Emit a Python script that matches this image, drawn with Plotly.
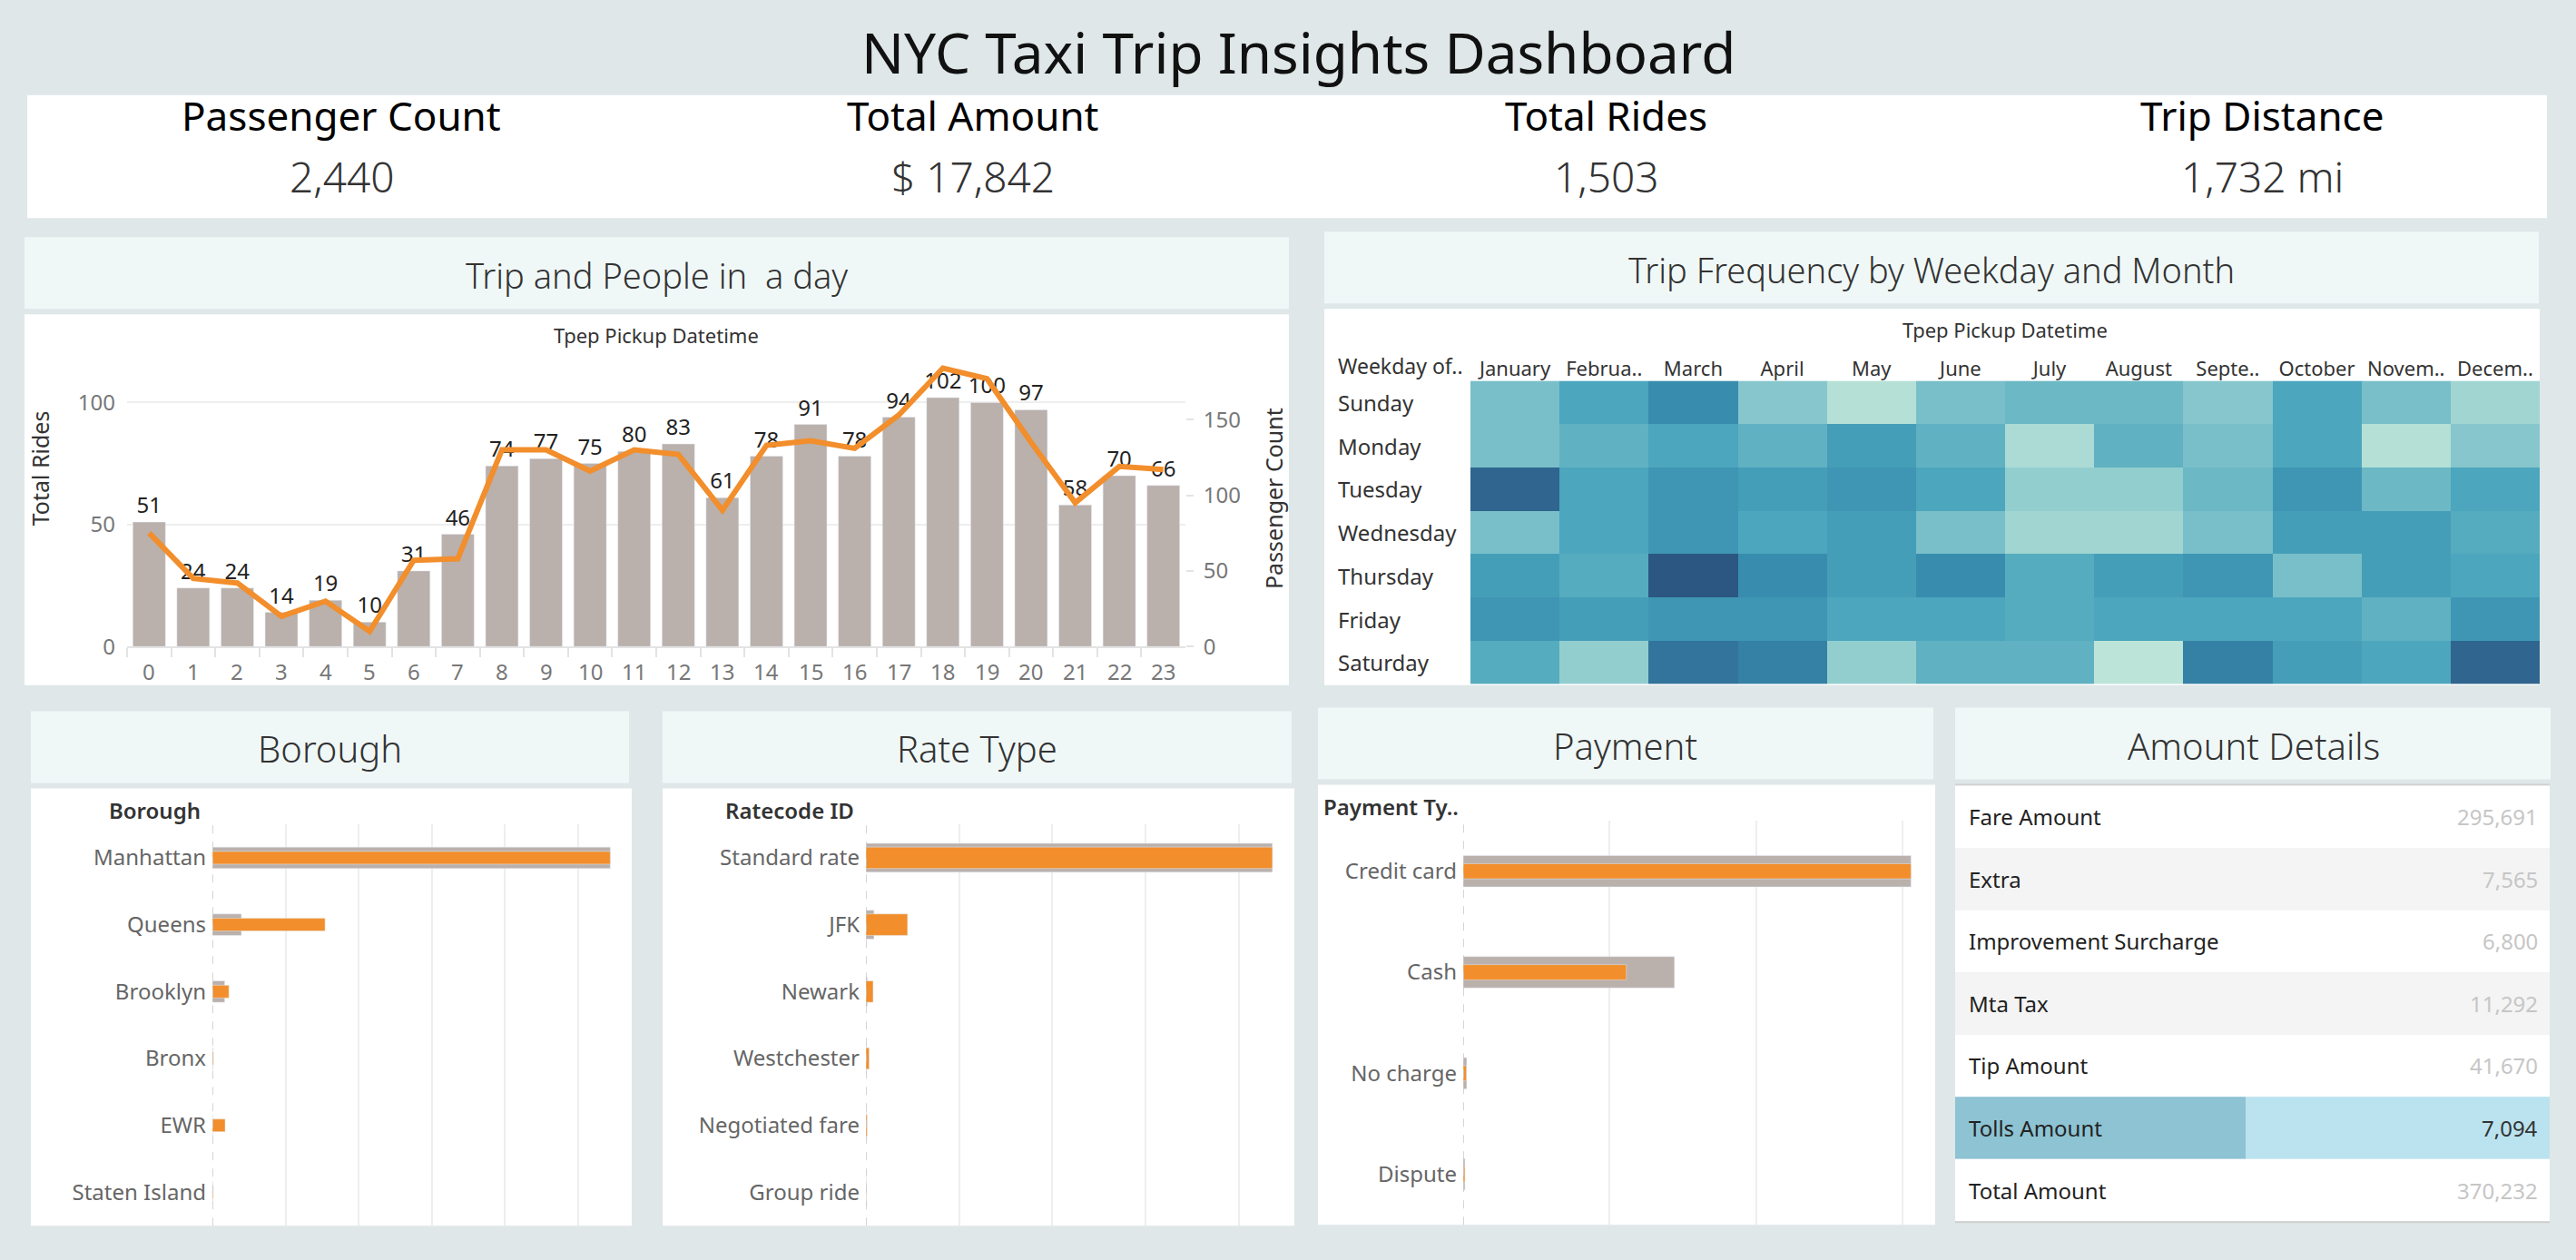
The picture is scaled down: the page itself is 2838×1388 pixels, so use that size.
import plotly.graph_objects as go

W, H = 2838, 1388
BG = "#dfe7e8"
TITLE_BG = "#f0f8f7"
GRAY = "#bab0ac"
ORANGE = "#f28e2b"
FONT = "Noto Sans"

# ---------------- data ----------------
kpi_labels = ["Passenger Count", "Total Amount", "Total Rides", "Trip Distance"]
kpi_values = ["2,440", "$ 17,842", "1,503", "1,732 mi"]

hours = [str(h) for h in range(24)]
hour_rides = [51, 24, 24, 14, 19, 10, 31, 46, 74, 77, 75, 80, 83, 61, 78, 91, 78, 94, 102, 100, 97, 58, 70, 66]
hour_passengers = [75, 45, 42, 20, 30, 10, 57, 58, 130, 130, 116, 130, 127, 90, 133, 136, 131, 153, 184, 177, 135, 95, 119, 117]

months = ["January", "Februa..", "March", "April", "May", "June", "July", "August",
          "Septe..", "October", "Novem..", "Decem.."]
weekdays = ["Sunday", "Monday", "Tuesday", "Wednesday", "Thursday", "Friday", "Saturday"]
trips_by_day_month = [
    [15, 19, 22, 14, 10, 15, 16, 16, 14, 19, 15, 12],
    [15, 17, 19, 17, 20, 17, 11, 17, 15, 19, 10, 14],
    [25, 19, 21, 20, 21, 19, 13, 13, 16, 21, 16, 19],
    [15, 19, 21, 19, 20, 15, 12, 12, 15, 20, 20, 18],
    [20, 18, 26, 22, 20, 22, 18, 20, 21, 15, 20, 19],
    [21, 20, 21, 21, 19, 19, 18, 19, 19, 19, 17, 21],
    [18, 13, 24, 23, 13, 17, 17, 9, 23, 20, 19, 25],
]

boroughs = ["Manhattan", "Queens", "Brooklyn", "Bronx", "EWR", "Staten Island"]
borough_rides = [1358, 99, 42, 2, 1, 1]
borough_amount = [272000, 77000, 11300, 700, 8700, 530]

rate_types = ["Standard rate", "JFK", "Newark", "Westchester", "Negotiated fare", "Group ride"]
rate_rides = [1465, 29, 5, 2, 1, 1]
rate_amount = [327000, 33500, 5800, 2600, 1000, 300]

payments = ["Credit card", "Cash", "No charge", "Dispute"]
payment_rides = [1013, 478, 8, 4]
payment_amount = [269200, 98100, 1900, 1032]

amount_labels = ["Fare Amount", "Extra", "Improvement Surcharge", "Mta Tax",
                 "Tip Amount", "Tolls Amount", "Total Amount"]
amount_values = [295691, 7565, 6800, 11292, 41670, 7094, 370232]
highlight_row = "Tolls Amount"


# ---------------- helpers (pixel -> paper) ----------------
def fx(px):
    return px / W


def fy(py):
    return 1 - py / H


shapes = []
annotations = []


def rect(x0, y0, x1, y1, color, line=None):
    shapes.append(dict(type="rect", xref="paper", yref="paper", layer="below",
                       x0=fx(x0), x1=fx(x1), y0=fy(y1), y1=fy(y0),
                       fillcolor=color, line=dict(width=0) if line is None else line))


def text(x, y, s, size, color="#333333", xanchor="center", weight="normal", angle=0, family=FONT):
    annotations.append(dict(xref="paper", yref="paper", x=fx(x), y=fy(y), text=s,
                            showarrow=False, xanchor=xanchor, yanchor="middle",
                            textangle=angle,
                            font=dict(family=family, size=size, color=color, weight=weight)))


# ---------------- panels ----------------
rect(30, 106, 2806, 243, "white")
rect(27, 264, 1420, 344, TITLE_BG)
rect(27, 350, 1420, 763, "white")
rect(1459, 258, 2797, 338, TITLE_BG)
rect(1459, 344, 2798, 763, "white")
rect(34, 792, 693, 872, TITLE_BG)
rect(34, 878, 696, 1365, "white")
rect(730, 792, 1423, 872, TITLE_BG)
rect(730, 878, 1426, 1365, "white")
rect(1452, 788, 2130, 868, TITLE_BG)
rect(1452, 874, 2132, 1364, "white")
rect(2154, 788, 2810, 868, TITLE_BG)

# Titles
text(1430, 58, "NYC Taxi Trip Insights Dashboard", 62, "#111111")
kpi_x = [376, 1072, 1770, 2492]
for xk, lab, val in zip(kpi_x, kpi_labels, kpi_values):
    text(xk, 128, lab, 44, "#000000")
    text(xk, 196, val, 46, "#333333", weight=300)

text(723, 306, "Trip and People in  a day", 38, "#333333", weight=300)
text(2128, 300, "Trip Frequency by Weekday and Month", 38, "#333333", weight=300)
text(363, 834, "Borough", 40, "#333333", weight=300)
text(1076, 834, "Rate Type", 40, "#333333", weight=300)
text(1790, 830, "Payment", 40, "#333333", weight=300)
text(2483, 830, "Amount Details", 40, "#333333", weight=300)

# ---------------- traces ----------------
fig = go.Figure()

fig.add_trace(go.Bar(x=hours, y=hour_rides, marker_color=GRAY, width=0.74,
                     text=hour_rides, textposition="outside", cliponaxis=False,
                     constraintext="none",
                     textfont=dict(family=FONT, size=24, color="#222222"),
                     xaxis="x", yaxis="y", showlegend=False, hoverinfo="x+y"))
fig.add_trace(go.Scatter(x=hours, y=hour_passengers, mode="lines",
                         line=dict(color=ORANGE, width=6),
                         xaxis="x", yaxis="y2", showlegend=False))
# hour labels under the axis
for h in hours:
    annotations.append(dict(xref="x", yref="paper", x=h, y=fy(748), text=h, showarrow=False,
                            xanchor="center", yanchor="middle",
                            font=dict(family=FONT, size=24, color="#777777")))
text(723, 373, "Tpep Pickup Datetime", 22, "#333333")
text(44, 522, "Total Rides", 25, "#333333", angle=-90)
text(1403, 555, "Passenger Count", 25, "#333333", angle=-90)

# Heatmap
bluteal = [
    [0.0, "#bde4d8"], [0.15, "#a6d9d3"], [0.3, "#85c5cc"], [0.45, "#64b3c3"],
    [0.6, "#4aa5bc"], [0.75, "#3990b0"], [0.87, "#33779e"], [1.0, "#2c5783"],
]
fig.add_trace(go.Heatmap(z=trips_by_day_month, x=months, y=weekdays, colorscale=bluteal,
                         showscale=False, xaxis="x3", yaxis="y3", xgap=0, ygap=0))
text(2209, 367, "Tpep Pickup Datetime", 22, "#333333")
text(1472, 407, "Weekday of..", 23, "#333333", xanchor="left")
row_h = (762 - 424) / len(weekdays)
for i, d in enumerate(weekdays):
    text(1472, 424 + row_h * (i + 0.5), d, 24, "#333333", xanchor="left")


def dual_bars(cats, gray_vals, orange_vals, xa, xb, ya, gw, ow):
    fig.add_trace(go.Bar(y=cats, x=gray_vals, orientation="h", marker_color=GRAY, width=gw,
                         xaxis=xa, yaxis=ya, showlegend=False))
    fig.add_trace(go.Bar(y=cats, x=orange_vals, orientation="h", marker_color=ORANGE, width=ow,
                         xaxis=xb, yaxis=ya, showlegend=False))


dual_bars(boroughs, borough_rides, borough_amount, "x4", "x5", "y4", 0.32, 0.19)
dual_bars(rate_types, rate_rides, rate_amount, "x6", "x7", "y5", 0.43, 0.32)
dual_bars(payments, payment_rides, payment_amount, "x8", "x9", "y6", 0.31, 0.15)

text(223, 902, "Borough", 24, "#333333", xanchor="right", weight=600)
text(943, 902, "Ratecode ID", 24, "#333333", xanchor="right", weight=600)
text(1456, 898, "Payment Ty..", 24, "#333333", xanchor="left", weight=600)

for xr, yr in [("x4", "y4"), ("x6", "y5"), ("x8", "y6")]:
    shapes.append(dict(type="line", xref=xr, yref=yr + " domain", x0=0, x1=0, y0=0, y1=1,
                       line=dict(color="#c8c8c8", width=1.5, dash="dash"), layer="above"))

# Amount details table
table_top, table_bot = 875, 1360
rh = (table_bot - table_top) / len(amount_labels)
shapes.append(dict(type="line", xref="paper", yref="paper", x0=fx(2154), x1=fx(2809),
                   y0=fy(874), y1=fy(874), line=dict(color="#cfcfcf", width=2), layer="below"))
for i, (lab, val) in enumerate(zip(amount_labels, amount_values)):
    y0 = table_top + i * rh
    y1 = y0 + rh
    if lab == highlight_row:
        rect(2154, y0, 2474, y1, "#8dc3d3")
        rect(2474, y0, 2809, y1, "#bae3ef")
        vcol = "#333333"
    else:
        rect(2154, y0, 2809, y1, "#f4f4f4" if i % 2 == 1 else "white")
        vcol = "#c6c6c6"
    text(2167, (y0 + y1) / 2, lab, 24, "#222222", xanchor="left")
    text(2798, (y0 + y1) / 2, f"{val:,}", 24, vcol, xanchor="right")
shapes.append(dict(type="line", xref="paper", yref="paper", x0=fx(2154), x1=fx(2809),
                   y0=fy(1361), y1=fy(1361), line=dict(color="#cfcfcf", width=2), layer="below"))

# ---------------- axes ----------------
tickf = dict(family=FONT, size=24, color="#777777")
pad = 1.054


def hbar_axes(base, over, ydom_name, x0, x1, yt, yb, gray_vals, orange_vals, dtick, cats):
    lay = {}
    lay[base] = dict(domain=[fx(x0), fx(x1)], anchor=ydom_name, range=[0, max(gray_vals) * pad],
                     showgrid=False, showticklabels=False, zeroline=False, showline=False)
    lay[over] = dict(overlaying=base.replace("axis", ""), anchor=ydom_name,
                     range=[0, max(orange_vals) * pad], dtick=dtick, tick0=0,
                     showgrid=True, gridcolor="#eeeeee", gridwidth=2,
                     showticklabels=False, zeroline=False, showline=False)
    ykey = "yaxis" + ydom_name[1:]
    lay[ykey] = dict(domain=[fy(yb), fy(yt)], anchor=base.replace("axis", ""),
                     type="category", categoryorder="array", categoryarray=cats,
                     autorange="reversed", showgrid=False, zeroline=False, showline=False,
                     ticks="", ticklabelstandoff=6,
                     tickfont=dict(family=FONT, size=24, color="#666666"))
    return lay


layout_axes = dict(
    xaxis=dict(domain=[fx(140), fx(1306)], anchor="y", type="category",
               showgrid=False, zeroline=False, showline=True, linecolor="#e3e3e3", linewidth=1.5,
               ticks="outside", tickson="boundaries", ticklen=10, tickcolor="#e3e3e3",
               tickwidth=2, showticklabels=False),
    yaxis=dict(domain=[fy(720), fy(383)], anchor="x", range=[0, 124], tickvals=[0, 50, 100],
               showgrid=True, gridcolor="#eeeeee", gridwidth=2, zeroline=False,
               showline=False, ticks="", ticklabelstandoff=12, tickfont=tickf),
    yaxis2=dict(overlaying="y", side="right", anchor="x", range=[0, 200],
                tickvals=[0, 50, 100, 150], showgrid=False, zeroline=False,
                ticks="outside", ticklen=8, tickcolor="#e3e3e3", tickwidth=2,
                ticklabelstandoff=6, tickfont=tickf),
    xaxis3=dict(domain=[fx(1620), fx(2798)], anchor="y3", side="top", type="category",
                showgrid=False, zeroline=False, ticks="", showline=False,
                tickfont=dict(family=FONT, size=22, color="#333333")),
    yaxis3=dict(domain=[fy(762), fy(424)], anchor="x3", type="category",
                autorange="reversed", showticklabels=False, showgrid=False,
                zeroline=False, ticks=""),
)
layout_axes.update(hbar_axes("xaxis4", "xaxis5", "y4", 234, 696, 918, 1365,
                             borough_rides, borough_amount, 50000, boroughs))
layout_axes.update(hbar_axes("xaxis6", "xaxis7", "y5", 954, 1426, 918, 1365,
                             rate_rides, rate_amount, 75000, rate_types))
layout_axes.update(hbar_axes("xaxis8", "xaxis9", "y6", 1612, 2132, 914, 1364,
                             payment_rides, payment_amount, 88000, payments))

fig.update_layout(
    width=W, height=H, autosize=False,
    margin=dict(l=0, r=0, t=0, b=0, pad=0),
    paper_bgcolor=BG, plot_bgcolor="rgba(0,0,0,0)",
    barmode="overlay", bargap=0.26,
    showlegend=False,
    font=dict(family=FONT, color="#333333"),
    shapes=shapes, annotations=annotations,
    **layout_axes,
)

fig.write_html("out.html")
